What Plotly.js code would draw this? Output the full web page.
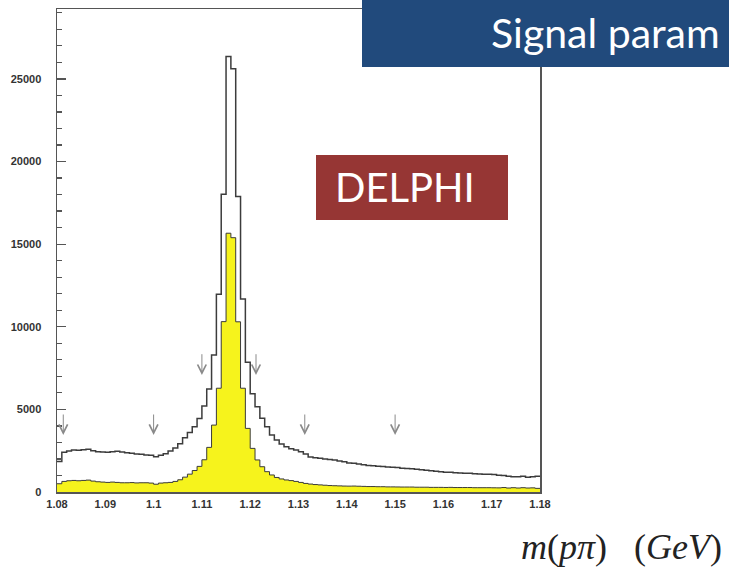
<!DOCTYPE html>
<html>
<head>
<meta charset="utf-8">
<script src="https://cdn.plot.ly/plotly-3.0.1.min.js"></script>
<style>
  html, body { margin: 0; padding: 0; background: #ffffff; }
  #chart { width: 729px; height: 571px; }
</style>
</head>
<body>
<div id="chart"></div>
<script>
// Invariant mass of p-pi pairs, 100 bins of 1 MeV from 1.08 to 1.18 GeV
const binLow = 1.08;
const binWidth = 0.001;

// all candidates (open histogram)
const allCounts = [
  1850, 2400, 2480, 2540, 2520, 2560, 2580, 2500, 2440, 2420,
  2400, 2440, 2460, 2420, 2380, 2340, 2300, 2280, 2240, 2220,
  2140, 2220, 2320, 2480, 2660, 2920, 3280, 3600, 3950, 4450,
  5200, 6235, 8290, 11970, 18020, 26350, 25620, 17880, 11680, 7850,
  5950, 5160, 4460, 3950, 3450, 3150, 2900, 2740, 2620, 2540,
  2440, 2300, 2120, 2080, 2040, 2000, 1960, 1930, 1880, 1830,
  1760, 1740, 1700, 1650, 1600, 1590, 1560, 1540, 1520, 1500,
  1480, 1440, 1420, 1400, 1380, 1350, 1320, 1290, 1260, 1230,
  1200, 1190, 1170, 1150, 1140, 1130, 1100, 1090, 1080, 1070,
  1060, 1020, 1000, 960, 930, 920, 950, 890, 920, 960
];

// selected signal sample (yellow histogram)
const signalCounts = [
  500, 640, 680, 700, 680, 700, 720, 660, 620, 600,
  580, 600, 580, 560, 560, 570, 550, 560, 560, 540,
  470, 540, 560, 580, 640, 740, 900, 1080, 1300, 1550,
  1950, 2700, 4050, 6280, 10310, 15660, 15390, 10300, 6280, 3850,
  2640, 1940, 1530, 1230, 1030, 880, 790, 730, 690, 640,
  580, 520, 480, 450, 430, 410, 390, 380, 370, 360,
  355, 360, 350, 340, 330, 330, 320, 320, 310, 310,
  305, 300, 300, 300, 290, 290, 290, 280, 280, 280,
  275, 280, 270, 270, 270, 270, 260, 260, 260, 260,
  255, 250, 270, 240, 260, 240, 260, 240, 250, 220
];

// cut positions marked with arrows
const arrowX = [1.0813, 1.1, 1.11, 1.1212, 1.1313, 1.15];
const arrowTip = [3450, 3450, 7080, 7080, 3450, 3450];
const arrowTail = [4780, 4780, 8430, 8430, 4780, 4780];

const xTickVals = [1.08, 1.09, 1.10, 1.11, 1.12, 1.13, 1.14, 1.15, 1.16, 1.17, 1.18];
const xTickText = ['1.08', '1.09', '1.1', '1.11', '1.12', '1.13', '1.14', '1.15', '1.16', '1.17', '1.18'];
const yTickVals = [0, 5000, 10000, 15000, 20000, 25000];
const yTickText = ['0', '5000', '10000', '15000', '20000', '25000'];

// step outline: bin edges with the last value repeated
function steps(counts) {
  const xs = [], ys = [];
  for (let i = 0; i <= counts.length; i++) {
    xs.push(+(binLow + i * binWidth).toFixed(4));
    ys.push(counts[Math.min(i, counts.length - 1)]);
  }
  return { xs, ys };
}

const all = steps(allCounts);
const sig = steps(signalCounts);

const traces = [
  {
    type: 'scatter', mode: 'lines',
    x: sig.xs, y: sig.ys,
    line: { shape: 'hv', color: '#3a3a3a', width: 1 },
    fill: 'tozeroy', fillcolor: '#f6f31c',
    hoverinfo: 'skip', showlegend: false
  },
  {
    type: 'scatter', mode: 'lines',
    x: all.xs, y: all.ys,
    line: { shape: 'hv', color: '#3c3c3c', width: 1.5 },
    hoverinfo: 'skip', showlegend: false
  }
];

const annotations = arrowX.map((x, i) => ({
  x: x, y: arrowTip[i], xref: 'x', yref: 'y',
  ax: x, ay: arrowTail[i], axref: 'x', ayref: 'y',
  showarrow: true, arrowhead: 5, arrowsize: 1.7, arrowwidth: 1,
  arrowcolor: '#8a8a8a', text: ''
}));

annotations.push(
  {
    text: 'Signal param', xref: 'paper', yref: 'paper',
    x: (489 - 57) / 483, y: (492 - 33) / 483,
    xanchor: 'left', yanchor: 'middle', showarrow: false,
    font: { family: 'Comic Sans MS, Lato, Noto Sans, sans-serif', size: 41, color: '#ffffff' }
  },
  {
    text: 'DELPHI', xref: 'paper', yref: 'paper',
    x: (405 - 57) / 483, y: (492 - 187) / 483,
    xanchor: 'center', yanchor: 'middle', showarrow: false,
    font: { family: 'Comic Sans MS, Lato, Noto Sans, sans-serif', size: 40, color: '#ffffff' }
  },
  {
    text: '<i>m</i>(<i>p\u03c0</i>)\u00a0\u00a0\u00a0(<i>GeV</i>)', xref: 'paper', yref: 'paper',
    x: (724 - 57) / 483, y: (492 - 547) / 483,
    xanchor: 'right', yanchor: 'middle', showarrow: false,
    font: { family: 'Liberation Serif, DejaVu Serif, serif', size: 36, color: '#222222' }
  }
);

const shapes = [
  {
    type: 'rect', xref: 'paper', yref: 'paper', layer: 'above',
    x0: (362 - 57) / 483, x1: (729 - 57) / 483,
    y0: (492 - 67) / 483, y1: (492 + 2) / 483,
    fillcolor: '#214a7c', line: { width: 0 }
  },
  {
    type: 'rect', xref: 'paper', yref: 'paper', layer: 'above',
    x0: (316 - 57) / 483, x1: (508 - 57) / 483,
    y0: (492 - 220) / 483, y1: (492 - 155) / 483,
    fillcolor: '#963634', line: { width: 0 }
  }
];

const tickFont = { family: 'Arial, Liberation Sans, sans-serif', size: 11, color: '#333333', weight: 700 };

const layout = {
  width: 729, height: 571,
  margin: { l: 57, r: 189, t: 9, b: 79, pad: 0 },
  paper_bgcolor: '#ffffff', plot_bgcolor: '#ffffff',
  showlegend: false,
  xaxis: {
    range: [1.08, 1.18], tickmode: 'array', tickvals: xTickVals, ticktext: xTickText,
    ticks: '', showgrid: false, zeroline: false,
    showline: true, mirror: true, linecolor: '#555555', linewidth: 1.5,
    tickfont: tickFont, ticklabelstandoff: 1
  },
  yaxis: {
    range: [0, 29230], tickmode: 'array', tickvals: yTickVals, ticktext: yTickText,
    ticks: 'inside', ticklen: 9, tickwidth: 1.2, tickcolor: '#555555',
    minor: { dtick: 1000, tick0: 0, ticks: 'inside', ticklen: 5, tickwidth: 1.2, tickcolor: '#555555' },
    showgrid: false, zeroline: false,
    showline: true, mirror: true, linecolor: '#555555', linewidth: 1.5,
    tickfont: tickFont, ticklabelstandoff: 12
  },
  annotations: annotations,
  shapes: shapes
};

Plotly.newPlot('chart', traces, layout, { displayModeBar: false, staticPlot: true });
</script>
</body>
</html>
